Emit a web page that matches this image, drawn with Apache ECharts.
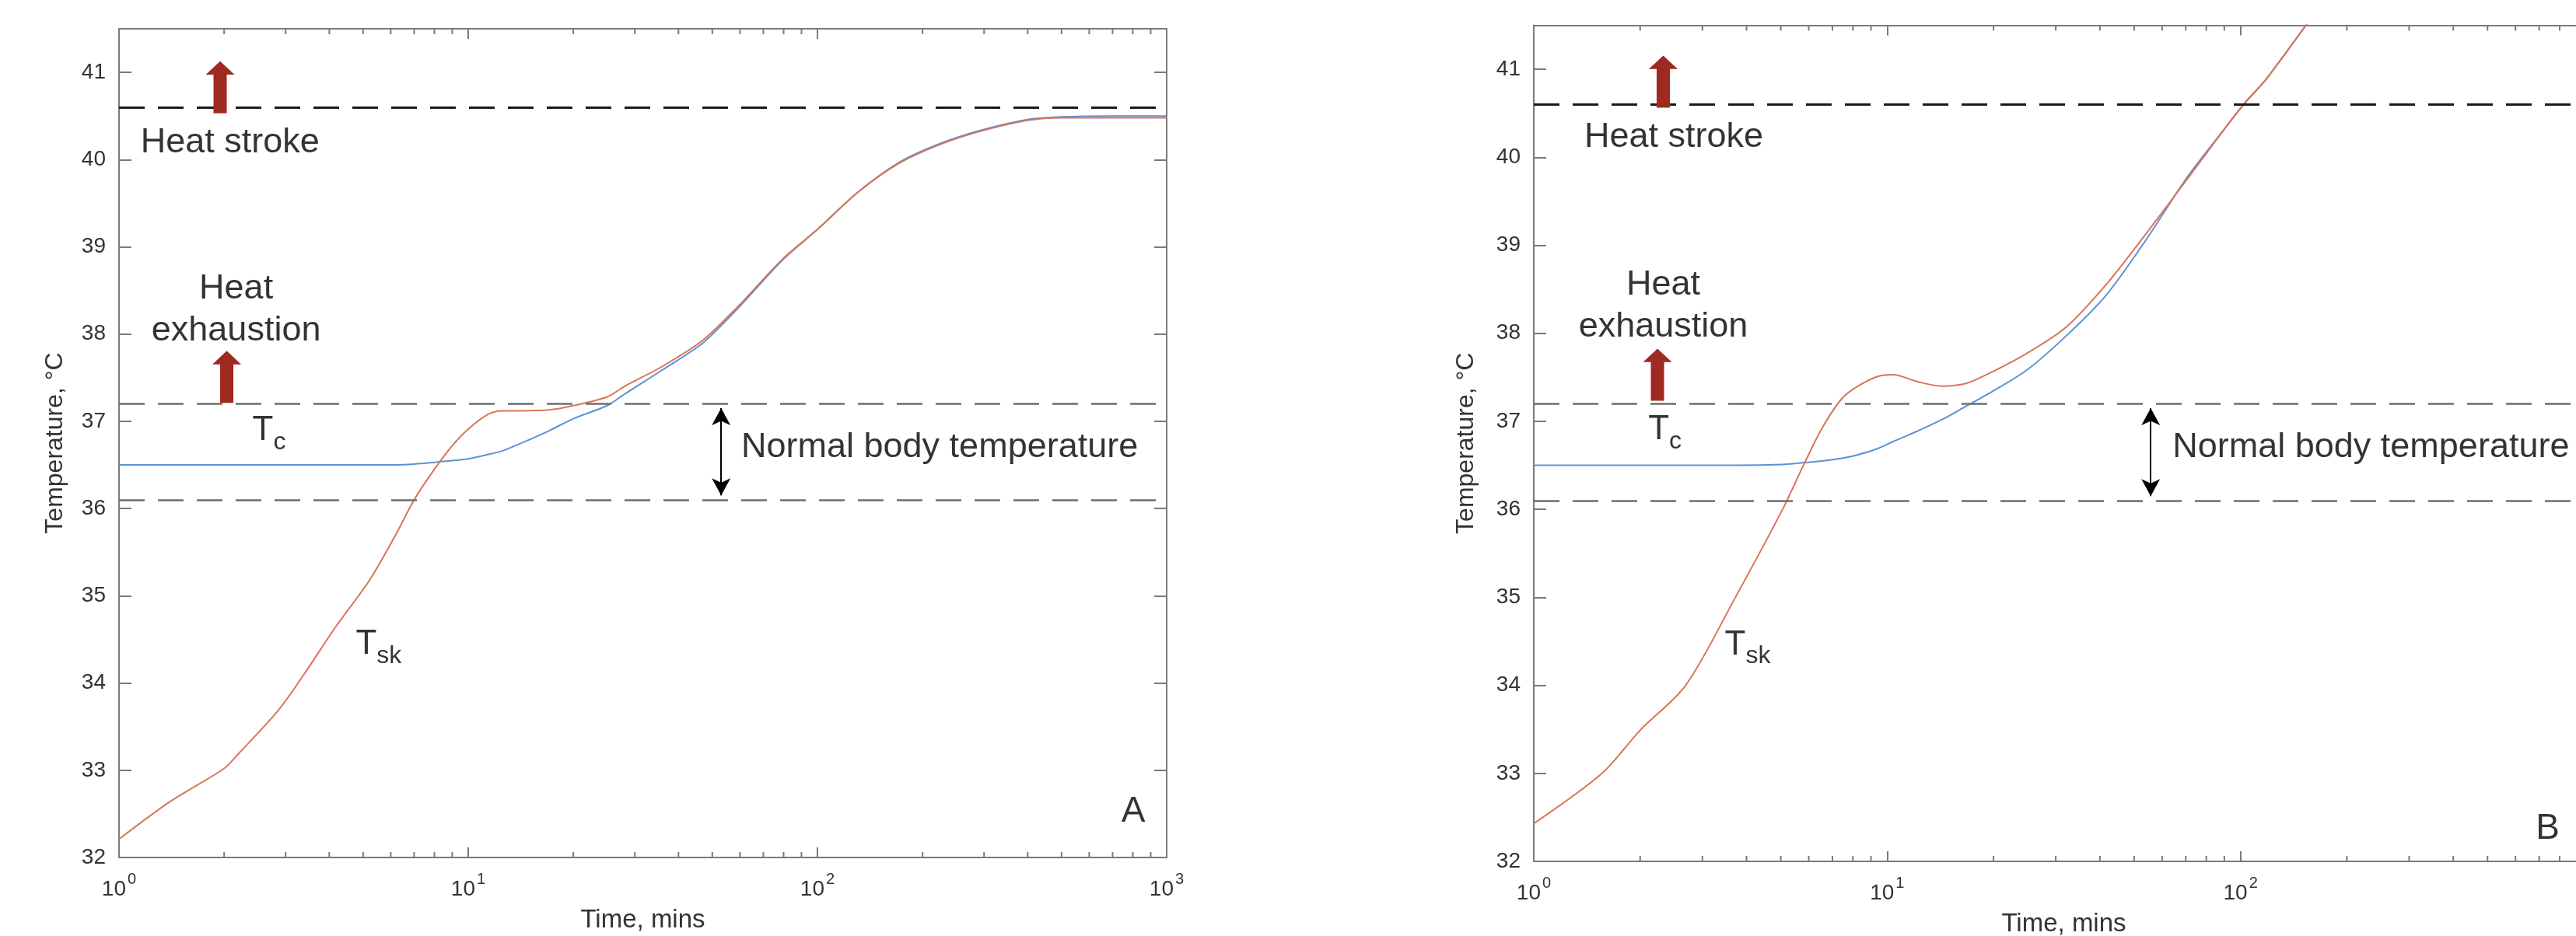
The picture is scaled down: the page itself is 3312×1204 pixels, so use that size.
<!DOCTYPE html>
<html>
<head>
<meta charset="utf-8">
<script src="https://cdn.jsdelivr.net/npm/echarts@6/dist/echarts.min.js"></script>
<style>
  html, body { margin: 0; padding: 0; background: #fff; }
  #chart { width: 3312px; height: 1204px; }
</style>
</head>
<body>
<div id="chart"></div>
<script>
const FONT = '"Liberation Sans", Arial, sans-serif'
const AXIS_COLOR = '#7a7a7a'
const SKIN_COLOR = '#dc7358'
const CORE_COLOR = '#5b93d3'
const ARROW_COLOR = '#9e2a22'

// panel A: time (mins) vs temperature (°C)
const timeA = [1, 1.4, 2, 2.2, 2.85, 3.4, 4.2, 5.2, 6.2, 7, 8, 9, 10, 11.4, 12.5, 14, 17, 20, 25, 28, 36, 47, 60, 79, 100, 130, 170, 220, 290, 400, 500, 700, 1000]
const skinA = [32.21, 32.64, 33.02, 33.19, 33.68, 34.11, 34.66, 35.17, 35.7, 36.1, 36.45, 36.72, 36.91, 37.08, 37.12, 37.12, 37.13, 37.18, 37.28, 37.4, 37.63, 37.93, 38.34, 38.85, 39.2, 39.62, 39.95, 40.16, 40.32, 40.45, 40.48, 40.48, 40.48]
const coreA = [36.5, 36.5, 36.5, 36.5, 36.5, 36.5, 36.5, 36.5, 36.5, 36.51, 36.53, 36.55, 36.57, 36.62, 36.66, 36.74, 36.89, 37.03, 37.18, 37.31, 37.59, 37.9, 38.32, 38.84, 39.2, 39.62, 39.96, 40.17, 40.33, 40.46, 40.49, 40.5, 40.5]

// panel B
const timeB = [1, 1.56, 2, 2.69, 3.72, 5.06, 5.78, 6.54, 7.45, 8.27, 9.4, 10.4, 12.2, 14.3, 16.7, 19.1, 24.8, 32.1, 41.6, 54, 70, 90.8, 103.5, 117.8, 152.6, 170]
const skinB = [32.43, 33.0, 33.49, 34.0, 35.0, 36.0, 36.49, 36.92, 37.26, 37.4, 37.51, 37.53, 37.45, 37.4, 37.43, 37.53, 37.77, 38.07, 38.55, 39.13, 39.73, 40.34, 40.63, 40.88, 41.49, 41.74]
const coreB = [36.5, 36.5, 36.5, 36.5, 36.5, 36.51, 36.53, 36.55, 36.58, 36.62, 36.69, 36.77, 36.89, 37.02, 37.17, 37.3, 37.58, 37.97, 38.43, 39.06, 39.75, 40.34, 40.63, 40.88, 41.49, 41.74]

// thresholds (°C)
const heatStrokeTemp = 40.6
const normalRange = [36.1, 37.2]

// axes
const timeRange = [1, 1000]
const tempRange = [32, 41.5]
const minorTimeTicks = [2, 3, 4, 5, 6, 7, 8, 9, 20, 30, 40, 50, 60, 70, 80, 90, 200, 300, 400, 500, 600, 700, 800, 900]

// annotation anchors, in data units [time, temp]
const notesA = {
  heatStroke: [2.08, 40.19],
  exhaustion: [2.165, 38.28],
  normal: [60.5, 36.7],
  rangeArrowTime: 53,
  tc: [2.69, 36.89],
  tsk: [5.54, 34.44],
  letter: [802, 32.52],
  strokeArrow: [1.948, 40.83],
  exhaustArrow: [2.035, 37.51],
}
const notesB = {
  heatStroke: [2.49, 40.23],
  exhaustion: [2.325, 38.31],
  normal: [64.2, 36.7],
  rangeArrowTime: 55.7,
  tc: [2.35, 36.9],
  tsk: [4.03, 34.46],
  letter: [740, 32.37],
  strokeArrow: [2.325, 40.86],
  exhaustArrow: [2.239, 37.53],
}

const ARROW_PATH = 'path://M5,0 L10,5.2 L7.3,5.2 L7.3,20 L2.7,20 L2.7,5.2 L0,5.2 Z'

function pairs(xs, ys) {
  return xs.map((x, i) => [x, ys[i]])
}

function buildXAxes(gi) {
  const base = {
    type: 'log',
    logBase: 10,
    min: timeRange[0],
    max: timeRange[1],
    gridIndex: gi,
    axisLine: { show: true, lineStyle: { color: AXIS_COLOR, width: 2 } },
    axisTick: { show: true, inside: true, length: 13, lineStyle: { color: AXIS_COLOR, width: 2 } },
    splitLine: { show: false },
    minorTick: { show: false },
  }
  return [
    {
      ...base,
      position: 'bottom',
      name: 'Time, mins',
      nameLocation: 'middle',
      nameGap: 64,
      nameTextStyle: { fontFamily: FONT, fontSize: 33, color: '#333' },
      axisLabel: {
        margin: 41,
        verticalAlign: 'middle',
        formatter: (v) => '{b|10}{s|' + Math.round(Math.log10(v)) + '}',
        rich: {
          b: { fontFamily: FONT, fontSize: 28, color: '#333' },
          s: { fontFamily: FONT, fontSize: 20, color: '#333', padding: [0, 0, 26, 2] },
        },
      },
    },
    { ...base, position: 'top', axisLabel: { show: false } },
  ]
}

function buildYAxes(gi, nameGap) {
  const base = {
    type: 'value',
    min: tempRange[0],
    max: tempRange[1],
    interval: 1,
    gridIndex: gi,
    axisLine: { show: true, lineStyle: { color: AXIS_COLOR, width: 2 } },
    axisTick: { show: true, inside: true, length: 16, lineStyle: { color: AXIS_COLOR, width: 2 } },
    splitLine: { show: false },
  }
  return [
    {
      ...base,
      position: 'left',
      name: 'Temperature, °C',
      nameLocation: 'middle',
      nameRotate: 90,
      nameGap,
      nameTextStyle: { fontFamily: FONT, fontSize: 32, color: '#333' },
      axisLabel: {
        margin: 17,
        fontFamily: FONT,
        fontSize: 28,
        color: '#333',
        showMaxLabel: false,
        formatter: (v) => (Number.isInteger(v) ? String(v) : ''),
      },
    },
    { ...base, position: 'right', axisLabel: { show: false } },
  ]
}

function minorTickItem(params, api) {
  const x = api.value(0)
  const b = api.coord([x, tempRange[0]])
  const t = api.coord([x, tempRange[1]])
  const style = { stroke: AXIS_COLOR, lineWidth: 2 }
  return {
    type: 'group',
    children: [
      { type: 'line', shape: { x1: b[0], y1: b[1], x2: b[0], y2: b[1] - 7 }, style },
      { type: 'line', shape: { x1: t[0], y1: t[1], x2: t[0], y2: t[1] + 7 }, style },
    ],
  }
}

function textNote(pos, text, extra) {
  return {
    value: pos,
    label: {
      show: true,
      position: 'inside',
      formatter: text,
      fontFamily: FONT,
      fontSize: 45,
      color: '#000',
      ...extra,
    },
  }
}

function buildSeries(gi, time, skin, core, notes, letter) {
  const axes = { xAxisIndex: gi * 2, yAxisIndex: gi * 2 }
  const subRich = {
    t: { fontFamily: FONT, fontSize: 44, color: '#000' },
    s: { fontFamily: FONT, fontSize: 32, color: '#000', padding: [30, 0, 0, 0] },
  }
  return [
    {
      type: 'line',
      ...axes,
      data: pairs(time, core),
      showSymbol: false,
      smooth: 0.3,
      lineStyle: { color: CORE_COLOR, width: 2 },
      z: 3,
      markLine: {
        silent: true,
        symbol: 'none',
        label: { show: false },
        data: [
          { yAxis: heatStrokeTemp, lineStyle: { color: '#1a1a1a', width: 3, type: [33, 17] } },
          { yAxis: normalRange[1], lineStyle: { color: '#6e6e6e', width: 2.5, type: [33, 17] } },
          { yAxis: normalRange[0], lineStyle: { color: '#6e6e6e', width: 2.5, type: [33, 17] } },
          [
            { coord: [notes.rangeArrowTime, normalRange[0] + 0.05], symbol: 'arrow', symbolSize: [18, 22] },
            { coord: [notes.rangeArrowTime, normalRange[1] - 0.05], symbol: 'arrow', symbolSize: [18, 22] },
          ],
        ],
        lineStyle: { color: '#000', width: 2, type: 'solid' },
      },
    },
    {
      type: 'line',
      ...axes,
      data: pairs(time, skin),
      showSymbol: false,
      smooth: 0.3,
      lineStyle: { color: SKIN_COLOR, width: 2 },
      z: 4,
    },
    {
      type: 'custom',
      ...axes,
      silent: true,
      renderItem: minorTickItem,
      data: minorTimeTicks.map((v) => [v, tempRange[0]]),
      z: 5,
    },
    {
      type: 'scatter',
      ...axes,
      silent: true,
      symbol: ARROW_PATH,
      symbolSize: [37, 67],
      symbolKeepAspect: false,
      itemStyle: { color: ARROW_COLOR, opacity: 1 },
      data: [notes.strokeArrow, notes.exhaustArrow],
      z: 6,
    },
    {
      type: 'scatter',
      ...axes,
      silent: true,
      symbolSize: 1,
      itemStyle: { color: 'rgba(0,0,0,0)' },
      z: 7,
      data: [
        textNote(notes.heatStroke, 'Heat stroke'),
        textNote(notes.exhaustion, 'Heat\nexhaustion', { lineHeight: 54 }),
        textNote(notes.normal, 'Normal body temperature', { align: 'left' }),
        textNote(notes.tc, '{t|T}{s|c}', { rich: subRich }),
        textNote(notes.tsk, '{t|T}{s|sk}', { rich: subRich }),
        textNote(notes.letter, letter, { fontSize: 46 }),
      ],
    },
  ]
}

const chart = echarts.init(document.getElementById('chart'))

chart.setOption({
  backgroundColor: '#fff',
  animation: false,
  textStyle: { fontFamily: FONT },
  grid: [
    { left: 153, top: 37, width: 1347, height: 1066, containLabel: false, outerBoundsMode: 'none' },
    { left: 1972, top: 32.5, width: 1363, height: 1075.5, containLabel: false, outerBoundsMode: 'none' },
  ],
  xAxis: [...buildXAxes(0), ...buildXAxes(1)],
  yAxis: [...buildYAxes(0, 66), ...buildYAxes(1, 71)],
  series: [
    ...buildSeries(0, timeA, skinA, coreA, notesA, 'A'),
    ...buildSeries(1, timeB, skinB, coreB, notesB, 'B'),
  ],
})
</script>
</body>
</html>
